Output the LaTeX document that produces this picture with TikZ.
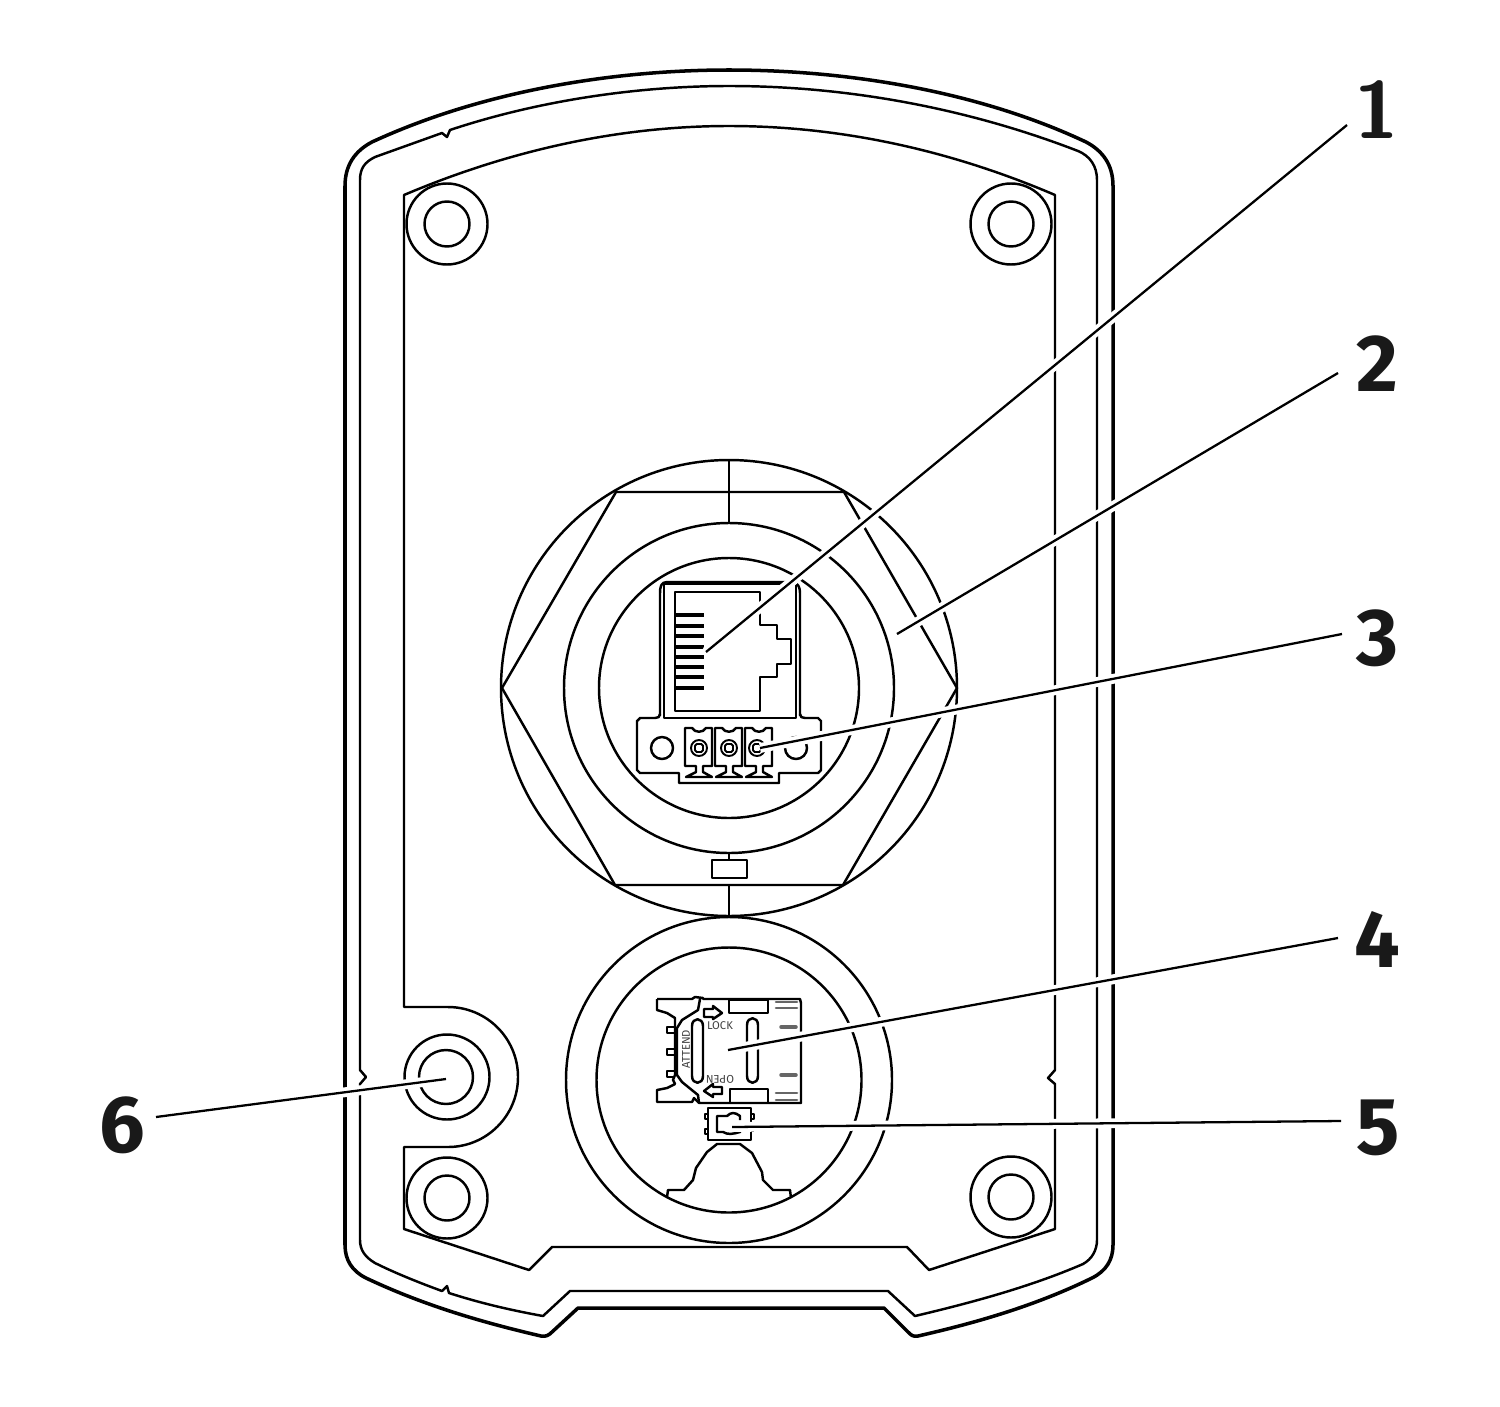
\documentclass[tikz,border=0pt]{standalone}
\usepackage{fontspec}
\setmainfont{Fira Sans}
\tikzset{
  edge/.style={line width=1.4pt,line join=round},
  thin edge/.style={line width=1.1pt,line join=round},
  rim/.style={line width=2pt,line join=round},
  gray edge/.style={line width=1.5pt,draw=black!60,line cap=round},
  leader/.style={preaction={draw=white,line width=5.6pt},line width=1.3pt},
  callout/.style={font=\fontsize{46}{46}\selectfont\bfseries,inner sep=0pt,text=black!90},
  callout one/.style={font=\fontsize{46}{46}\usefont{TU}{lmss}{bx}{n},inner sep=0pt,text=black!90},
  small/.style={font=\fontsize{6.4}{6.4}\selectfont,inner sep=0pt,text=black!75},
}
\begin{document}
\begin{tikzpicture}[x=0.02cm,y=-0.02cm]
  \useasboundingbox (0,0) rectangle (1500,1406);
  % housing
  \draw[rim] (372,142) .. controls (480,92) and (610,70) .. (729,70)
    .. controls (850,70) and (980,92) .. (1086,142)
    .. controls (1103,151) and (1113,165) .. (1113,186)
    -- (1113,1245) .. controls (1113,1260) and (1106,1271) .. (1092,1278)
    .. controls (1035,1306) and (975,1323) .. (918,1336)
    .. controls (913,1337) and (911,1335) .. (908,1332)
    -- (884,1308) -- (578,1308) -- (552,1332)
    .. controls (549,1335) and (546,1337) .. (541,1336)
    .. controls (485,1323) and (425,1306) .. (366,1278)
    .. controls (352,1271) and (345,1260) .. (345,1245)
    -- (345,186) .. controls (345,165) and (355,151) .. (372,142) -- cycle;
  \draw[edge] (442,133) -- (447,137) -- (450,130)
    .. controls (540,100) and (640,86) .. (729,86)
    .. controls (860,86) and (980,113) .. (1078,151)
    .. controls (1090,156) and (1097,166) .. (1097,180)
    -- (1097,1240) .. controls (1097,1250) and (1092,1259) .. (1083,1264)
    .. controls (1030,1287) and (970,1303) .. (915,1316)
    -- (888,1291) -- (570,1291) -- (543,1316)
    .. controls (510,1310) and (480,1303) .. (449,1293)
    -- (447,1286) -- (442,1291)
    .. controls (420,1283) and (395,1273) .. (375,1263)
    .. controls (365,1257) and (360,1250) .. (360,1240)
    -- (360,1084) -- (366,1077) -- (360,1070)
    -- (360,180) .. controls (360,168) and (365,162) .. (375,157) -- cycle;
  % panel
  \draw[edge] (404,195) .. controls (510,150) and (620,126) .. (729,126)
    .. controls (840,126) and (950,150) .. (1055,195)
    -- (1055,1070) -- (1048,1078) -- (1055,1084)
    -- (1055,1229) -- (929,1270) -- (907,1247) -- (552,1247) -- (529,1270)
    -- (404,1229) -- (404,1147) -- (448,1147)
    arc[start angle=90,end angle=-90,radius=70]
    -- (404,1007) -- cycle;
  % screws
  \foreach \px/\py in {447/224,1011/224,447/1198,1011/1197}{
    \draw[edge] (\px,\py) circle[radius=40.5] (\px,\py) circle[radius=22.5];
  }
  \draw[edge] (447,1077) circle[radius=42.5] (446,1077) circle[radius=27];
  % gland
  \coordinate (gland) at (729,688);
  \draw[edge] (gland) circle[radius=228] (gland) circle[radius=165] (gland) circle[radius=130];
  \draw[edge] (502,688) -- (616,492) -- (844,492) -- (957,688) -- (843,885) -- (615,885) -- cycle;
  \draw[thin edge] (729,461) -- (729,523) (729,853) -- (729,860) (729,885) -- (729,917);
  \draw[thin edge] (712,860) rectangle (747,878);
  % slot
  \coordinate (slot) at (729,1080);
  \draw[edge] (slot) circle[radius=163] (slot) circle[radius=132.5];
  % network jack
  \draw[edge] (664,718) -- (664,584) -- (796,584) -- (796,718) -- cycle;
  \draw[edge] (660,716) -- (660,593) .. controls (660,587) and (661,582) .. (667,582) -- (794,582)
    .. controls (798,584) and (800,587) .. (800,593) -- (800,716);
  \draw[edge] (675,592) -- (760,592) -- (760,625) -- (777,625) -- (777,639) -- (791,639) -- (791,664)
    -- (777,664) -- (777,677) -- (760,677) -- (760,711) -- (675,711) -- cycle;
  \foreach \py in {615,625.7,636,646.7,657,667.3,677.3,687.7}{
    \draw[line width=2.2pt] (676,\py) -- (704,\py);
  }
  % terminal block
  \draw[edge] (660,714) .. controls (660,717) and (658,718) .. (655,718) -- (640,718) -- (637,721) -- (637,770)
    -- (640,773) -- (679,773) -- (679,783) -- (779,783) -- (779,773) -- (818,773) -- (821,770)
    -- (821,721) -- (818,718) -- (805,718) .. controls (802,718) and (800,717) .. (800,714);
  \draw[edge] (662,748) circle[radius=11];
  \foreach \px in {699,729,759}{
    \draw[edge] (\px-14,728) -- (\px-7,728) .. controls (\px-4,733) and (\px+4,733) .. (\px+7,728) -- (\px+13,728)
      -- (\px+13,766) -- (\px+4,766) -- (\px+4,772) -- (\px+13,777) -- (\px-13,777)
      -- (\px-3,772) -- (\px-3,766) -- (\px-14,766) -- cycle;
  }
  \foreach \px in {699,729,757}{
    \draw[thin edge] (\px,748) circle[radius=8];
    \draw[thin edge,rounded corners=1pt] (\px-4,744) rectangle (\px+4,752);
  }
  \draw[edge] (796,748) circle[radius=11];
  % SIM holder
  \coordinate (simc) at (729,1049);
  \draw[edge] (657,999) -- (692,999) -- (695,997) -- (703,998) -- (703,999) -- (800,999) -- (801,1003) -- (801,1103)
    -- (699,1103) -- (698,1095) -- (682,1082) -- (677,1075) -- (677,1028) -- (682,1020) -- (698,1010) -- (700,999);
  \draw[edge] (657,999) -- (657,1010) -- (667,1013) -- (675,1018) -- (675,1075) -- (673,1080) -- (675,1084) -- (667,1088)
    -- (657,1090) -- (657,1102) -- (692,1102) -- (694,1098) -- (699,1103);
  \foreach \py in {1030,1052,1074}{
    \draw[thin edge] (675,\py-3) -- (667,\py-3) -- (667,\py+3) -- (675,\py+3);
  }
  \draw[edge] (729,1000) rectangle (768,1013) (730,1089) rectangle (768,1103);
  \draw[edge] (692,1026) .. controls (692,1017) and (703,1017) .. (703,1026) -- (703,1076)
    .. controls (703,1085) and (692,1085) .. (692,1076) -- cycle;
  \draw[edge] (747,1025) .. controls (747,1016) and (758,1016) .. (758,1025) -- (758,1076)
    .. controls (758,1085) and (747,1085) .. (747,1076) -- cycle;
  \foreach \py in {1002,1008,1093,1100}{
    \draw[gray edge] (776,\py) -- (797,\py);
  }
  \foreach \py in {1027,1075}{
    \draw[gray edge,line width=2pt] (781,\py) -- (796,\py);
  }
  \draw[edge] (704,1009) -- (713,1009) -- (713,1006) -- (722,1013) -- (713,1019) -- (713,1017) -- (704,1017) -- cycle;
  \draw[edge] (722,1087) -- (713,1087) -- (713,1084) -- (704,1091) -- (713,1097) -- (713,1094) -- (722,1094) -- cycle;
  \node[small] (lock) at (720,1026) {LOCK};
  \node[small,rotate=180] (open) at (720,1079) {OPEN};
  \node[small,rotate=90] (attend) at (686,1049) {ATTEND};
  % push button
  \draw[edge] (708,1108) rectangle (751,1140);
  \draw[edge] (740,1120) -- (740,1116) .. controls (735,1112) and (731,1112) .. (727,1116) -- (717,1116) -- (717,1132) -- (723,1132)
    .. controls (728,1135) and (733,1134) .. (740,1132) -- (741,1129);
  \draw[thin edge] (708,1114) -- (705,1114) -- (705,1119) -- (708,1119) (708,1129) -- (705,1129) -- (705,1134) -- (708,1134)
    (751,1114) -- (754,1114) -- (754,1119) -- (751,1119) (751,1131) -- (754,1131);
  % spring contact
  \draw[edge] (667,1197) -- (668,1190) -- (684,1190) -- (693,1180) -- (696,1168) -- (707,1152) -- (717,1144)
    -- (740,1144) -- (752,1153) -- (762,1172) -- (763,1180) -- (773,1190) -- (790,1190) -- (791,1198);
  % labels
  \node[callout one] (n1) at (1377,110) {1};
  \node[callout] (n2) at (1377,364) {2};
  \node[callout] (n3) at (1377,638) {3};
  \node[callout] (n4) at (1377,939) {4};
  \node[callout] (n5) at (1378,1128) {5};
  \node[callout] (n6) at (122,1125) {6};
  \coordinate (p1) at (706,652);
  \coordinate (p2) at (897,634);
  \coordinate (p3) at (760,748);
  \coordinate (p4) at (728,1050);
  \coordinate (p5) at (732,1127);
  \coordinate (p6) at (446,1079);
  \draw[leader] (n1) ++(-30,15) coordinate (s1) -- (p1);
  \draw[leader] (n2) ++(-39,9) coordinate (s2) -- (p2);
  \draw[leader] (n3) ++(-35,-4) coordinate (s3) -- (p3);
  \draw[leader] (n4) ++(-39,-1) coordinate (s4) -- (p4);
  \draw[leader] (n5) ++(-37,-7) coordinate (s5) -- (p5);
  \draw[leader] (n6) ++(34,-8) coordinate (s6) -- (p6);
\end{tikzpicture}
\end{document}
